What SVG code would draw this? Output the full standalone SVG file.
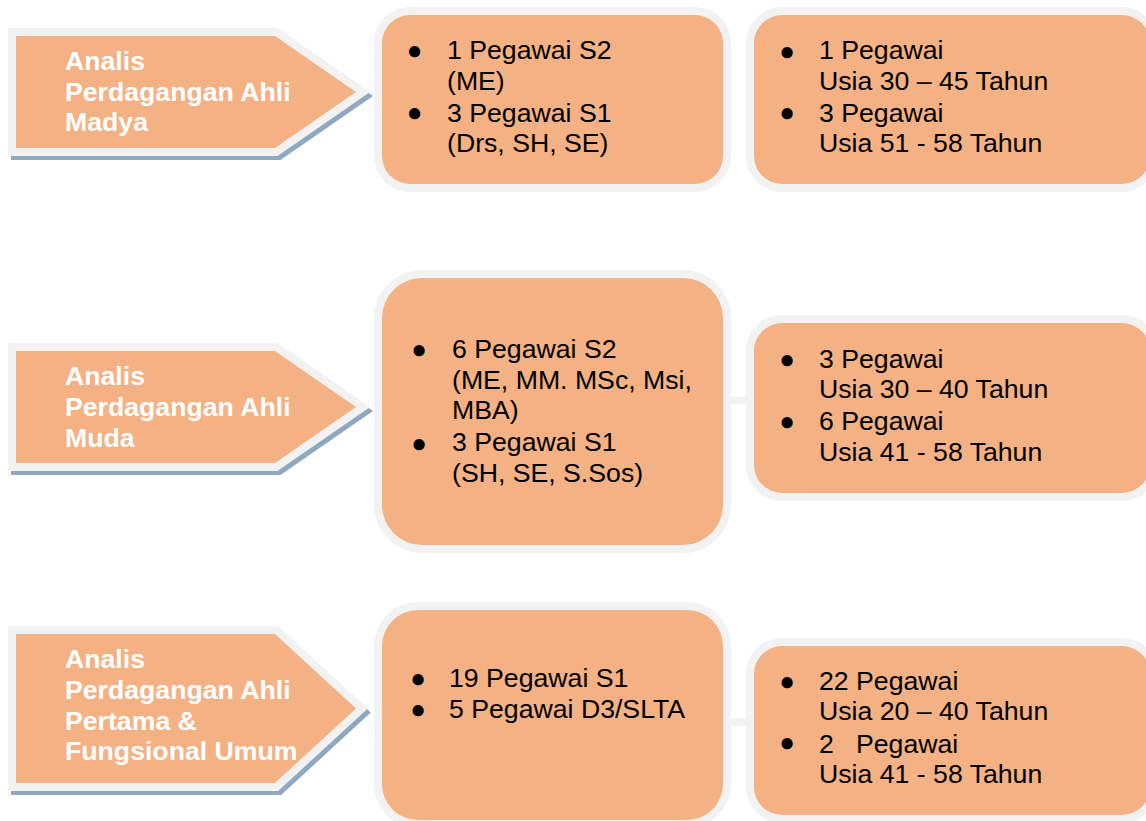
<svg xmlns="http://www.w3.org/2000/svg" width="1146" height="821" viewBox="0 0 1146 821">
  <style>
    .arrow { fill: #F4B183; stroke: #F2F2F2; stroke-width: 16; stroke-linejoin: miter; paint-order: stroke; }
    .shadow { fill: #8FA8BF; stroke: #8FA8BF; stroke-width: 16; stroke-linejoin: miter; }
    .box { fill: #F4B183; stroke: #F2F2F2; stroke-width: 16; paint-order: stroke; }
    .conn { stroke: #F2F2F2; stroke-width: 8; fill: none; }
    .lbl { font-family: "Liberation Sans", Arial, sans-serif; font-weight: bold; font-size: 26.67px; fill: #FFFFFF; }
    .txt { font-family: "Liberation Sans", Arial, sans-serif; font-size: 26.67px; fill: #000000; }
    .bul { font-size: 26px; }
  </style>
  <rect width="1146" height="821" fill="#FFFFFF"/>

  <g id="connectors">
    <line class="conn" x1="723" y1="400.5" x2="754" y2="400.5"/>
    <line class="conn" x1="723" y1="722" x2="754" y2="722"/>
  </g>

  <g id="arrow-madya">
    <polygon class="shadow" points="19,40 278,40 359,96 278,152 19,152"/>
    <polygon class="arrow" points="16,36 275,36 356,92 275,148 16,148"/>
    <text class="lbl"><tspan x="65" y="70">Analis</tspan><tspan x="65" y="101">Perdagangan Ahli</tspan><tspan x="65" y="131">Madya</tspan></text>
  </g>

  <g id="arrow-muda">
    <polygon class="shadow" points="19,355 278,355 359,411 278,467 19,467"/>
    <polygon class="arrow" points="16,351 275,351 356,407 275,463 16,463"/>
    <text class="lbl"><tspan x="65" y="385">Analis</tspan><tspan x="65" y="416">Perdagangan Ahli</tspan><tspan x="65" y="447">Muda</tspan></text>
  </g>

  <g id="arrow-pertama">
    <polygon class="shadow" points="19,638 278,638 359,712.5 278,787 19,787"/>
    <polygon class="arrow" points="16,634 275,634 356,708.5 275,783 16,783"/>
    <text class="lbl"><tspan x="65" y="668">Analis</tspan><tspan x="65" y="699">Perdagangan Ahli</tspan><tspan x="65" y="730">Pertama &amp;</tspan><tspan x="65" y="760">Fungsional Umum</tspan></text>
  </g>

  <g id="edu-madya">
    <rect class="box" x="382" y="15" width="341" height="169" rx="28"/>
    <text class="txt"><tspan class="bul" x="406.7" y="59">●</tspan><tspan x="447" y="59">1 Pegawai S2</tspan><tspan x="447" y="90">(ME)</tspan><tspan class="bul" x="406.7" y="121">●</tspan><tspan x="447" y="121.5">3 Pegawai S1</tspan><tspan x="447" y="152">(Drs, SH, SE)</tspan></text>
  </g>

  <g id="age-madya">
    <rect class="box" x="754" y="15" width="396" height="169" rx="28"/>
    <text class="txt"><tspan class="bul" x="779.2" y="59.7">●</tspan><tspan x="819" y="59">1 Pegawai</tspan><tspan x="819" y="89.5">Usia 30 – 45 Tahun</tspan><tspan class="bul" x="779.2" y="121">●</tspan><tspan x="819" y="121.5">3 Pegawai</tspan><tspan x="819" y="151.7">Usia 51 - 58 Tahun</tspan></text>
  </g>

  <g id="edu-muda">
    <rect class="box" x="382" y="278" width="341" height="267" rx="40"/>
    <text class="txt"><tspan class="bul" x="411.2" y="358">●</tspan><tspan x="452" y="358">6 Pegawai S2</tspan><tspan x="452" y="389">(ME, MM. MSc, Msi,</tspan><tspan x="452" y="419">MBA)</tspan><tspan class="bul" x="411.2" y="452">●</tspan><tspan x="452" y="451">3 Pegawai S1</tspan><tspan x="452" y="482">(SH, SE, S.Sos)</tspan></text>
  </g>

  <g id="age-muda">
    <rect class="box" x="754" y="323" width="396" height="170" rx="28"/>
    <text class="txt"><tspan class="bul" x="779.2" y="367.7">●</tspan><tspan x="819" y="368">3 Pegawai</tspan><tspan x="819" y="398">Usia 30 – 40 Tahun</tspan><tspan class="bul" x="779.2" y="430">●</tspan><tspan x="819" y="430">6 Pegawai</tspan><tspan x="819" y="461">Usia 41 - 58 Tahun</tspan></text>
  </g>

  <g id="edu-pertama">
    <rect class="box" x="382" y="610" width="341" height="210" rx="36"/>
    <text class="txt"><tspan class="bul" x="410.2" y="687">●</tspan><tspan x="449" y="687">19 Pegawai S1</tspan><tspan class="bul" x="410.2" y="718">●</tspan><tspan x="449" y="718">5 Pegawai D3/SLTA</tspan></text>
  </g>

  <g id="age-pertama">
    <rect class="box" x="754" y="646" width="396" height="169" rx="28"/>
    <text class="txt"><tspan class="bul" x="779.2" y="690">●</tspan><tspan x="819" y="690">22 Pegawai</tspan><tspan x="819" y="720">Usia 20 – 40 Tahun</tspan><tspan class="bul" x="779.2" y="751">●</tspan><tspan x="819" y="753">2</tspan><tspan x="856" y="753">Pegawai</tspan><tspan x="819" y="783">Usia 41 - 58 Tahun</tspan></text>
  </g>
</svg>
